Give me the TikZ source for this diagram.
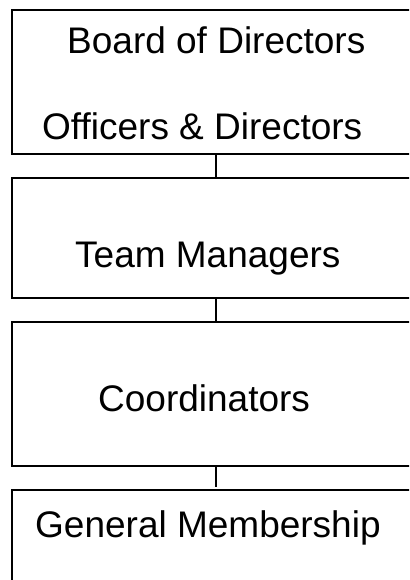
\documentclass[tikz,border=0pt]{standalone}
\usepackage{fontspec}
\setmainfont{Liberation Sans}
\begin{document}
\begin{tikzpicture}[x=1pt,y=-1pt,
  boxstyle/.style={draw=black,line width=1.8pt,minimum width=408pt,inner sep=0pt,outer sep=0pt},
  lbl/.style={anchor=base west,inner sep=0pt,font=\fontsize{37}{42}\selectfont},
  conn/.style={draw=black,line width=1.8pt}]
\useasboundingbox (0,0) rectangle (409,580);
\clip (0,0) rectangle (409,580);
\node[boxstyle,minimum height=144pt] (b1) at (216,82) {};
\node[boxstyle,minimum height=120pt] (b2) at (216,238) {};
\node[boxstyle,minimum height=144pt] (b3) at (216,394) {};
\node[boxstyle,minimum height=120pt] (b4) at (216,550) {};
\coordinate (c4) at (216,487);
\draw[conn] (b1.south) -- (b2.north);
\draw[conn] (b2.south) -- (b3.north);
\draw[conn] (b3.south) -- (c4);
\node[lbl] (t1) at (67,54) {Board of Directors};
\node[lbl] (t2) at (42,140) {Officers \& Directors};
\node[lbl] (t3) at (75,267) {Team Managers};
\node[lbl] (t4) at (98,411) {Coordinators};
\node[lbl] (t5) at (35,537) {General Membership};
\end{tikzpicture}
\end{document}
